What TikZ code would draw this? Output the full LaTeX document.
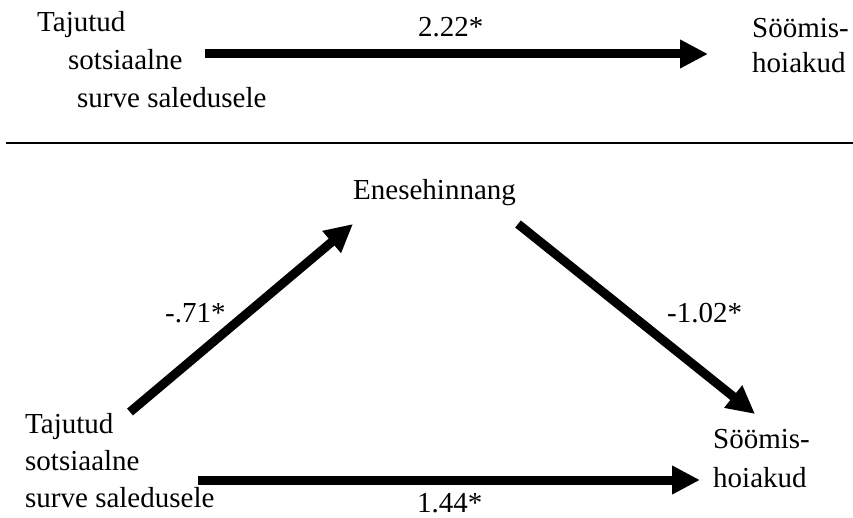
\documentclass[tikz,border=0pt]{standalone}
\usepackage{fontspec}
\setmainfont{Liberation Serif}
\usetikzlibrary{arrows.meta}
\tikzset{
  lbl/.style={anchor=base west, inner sep=0pt, font=\fontsize{29}{38}\selectfont},
  thickarrow/.style={line width=9pt, -{Triangle[length=28pt,width=27pt]}},
  divider/.style={line width=2pt}
}
\begin{document}
\begin{tikzpicture}[x=1pt,y=-1pt]
\useasboundingbox (0,0) rectangle (853,518);
% top panel
\node[lbl] (ta1) at (37,32) {Tajutud};
\node[lbl] (ta2) at (68,70) {sotsiaalne};
\node[lbl] (ta3) at (77,108) {surve saledusele};
\node[lbl] (tc) at (418,37) {2.22*};
\node[lbl] (ts1) at (752,38) {Söömis-};
\node[lbl] (ts2) at (752,73) {hoiakud};
\coordinate (tA) at (205,54);
\coordinate (tB) at (708,54);
\draw[thickarrow] (tA) -- (tB);
% divider
\coordinate (dL) at (6,143);
\coordinate (dR) at (853,143);
\draw[divider] (dL) -- (dR);
% bottom panel
\node[lbl] (en) at (353,200) {Enesehinnang};
\node[lbl] (c1) at (165,323) {-.71*};
\node[lbl] (c2) at (667,322) {-1.02*};
\node[lbl] (bs1) at (713,448) {Söömis-};
\node[lbl] (bs2) at (713,487) {hoiakud};
\node[lbl] (ba1) at (25,433) {Tajutud};
\node[lbl] (ba2) at (25,470) {sotsiaalne};
\node[lbl] (ba3) at (25,507) {surve saledusele};
\node[lbl] (c3) at (417,512) {1.44*};
\coordinate (d1A) at (130,412);
\coordinate (d1B) at (353,224);
\coordinate (d2A) at (518,224);
\coordinate (d2B) at (755,414);
\coordinate (bA) at (198,480);
\coordinate (bB) at (700,480);
\draw[thickarrow] (d1A) -- (d1B);
\draw[thickarrow] (d2A) -- (d2B);
\draw[thickarrow] (bA) -- (bB);
\end{tikzpicture}
\end{document}
